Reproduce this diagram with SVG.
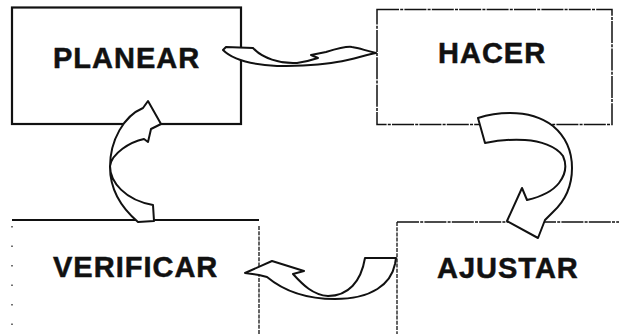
<svg xmlns="http://www.w3.org/2000/svg" width="619" height="334" viewBox="0 0 619 334">
<style>
.lbl{font-family:"Liberation Sans",Arial,sans-serif;font-weight:bold;font-size:29px;letter-spacing:1px;fill:#111;stroke:#111;stroke-width:0.5}
.box{fill:none;stroke:#111}
.arr{fill:#fff;stroke:#111;stroke-width:2;stroke-linejoin:round}
</style>
<rect width="619" height="334" fill="#fff"/>
<g id="planear">
<rect class="box" x="12" y="7.5" width="229" height="116.5" stroke-width="2.2"/>
<text class="lbl" x="53" y="68">PLANEAR</text>
</g>
<g id="hacer">
<rect class="box" x="377" y="9.5" width="235" height="115" stroke-width="1.5" stroke-dasharray="22 1.2 3 1.2"/>
<text class="lbl" x="438" y="63">HACER</text>
</g>
<g id="verificar">
<path class="box" d="M12,220 H259" stroke-width="1.8"/>
<path class="box" d="M12,226 V334" stroke-width="1.2" stroke-dasharray="1.5 18"/>
<path class="box" d="M259,226 V334" stroke-width="1.3" stroke-dasharray="4 1.2"/>
<text class="lbl" x="53" y="277">VERIFICAR</text>
</g>
<g id="ajustar">
<path class="box" d="M397,222 H619" stroke-width="1.6" stroke-dasharray="22 1.2 3 1.2"/>
<path class="box" d="M397,222 V334" stroke-width="1.3" stroke-dasharray="4 1.2"/>
<text class="lbl" x="437" y="278">AJUSTAR</text>
</g>
<g id="connectors">
<path class="arr" d="M223,50 L226,47 L253,48 C262,58 280,64 297,63 C305,62 312,60 318,58 L311,55 L326,52 C336,49 346,46 352,47 C360,48 366,51 376,53 C365,55 352,60 337,62 C320,65 295,66 277,66 C258,65 235,62 223,50 Z"/>
<path class="arr" d="M478,118 C490,114 500,113 510,113 C525,113 540,116 553,126 C566,137 572,150 572,168 C572,185 566,200 553,212 L545,220 L538,238 L507,221 L522,188 L527,200 C540,197 552,192 559,183 C566,174 567,165 563,156 C556,146 540,141 525,140 C510,139 495,141 485,143 Z"/>
<path class="arr" d="M365,258 L396,258 L395,264 C391,284 372,299 335,299 C308,299 285,292 267,277 L259,275 L245,273 L272,261 L304,271 L293,274 C303,285 313,295 328,296 C348,296 361,282 365,258 Z"/>
<path class="arr" d="M138,222 C124,210 110,192 110,167 C110,140 124,116 143,108 L148,101 L161,124 L151,129 L148,142 L144,139 C130,142 112,153 110,166 C110,182 125,200 153,205 L154,221 Z"/>
</g>
</svg>
